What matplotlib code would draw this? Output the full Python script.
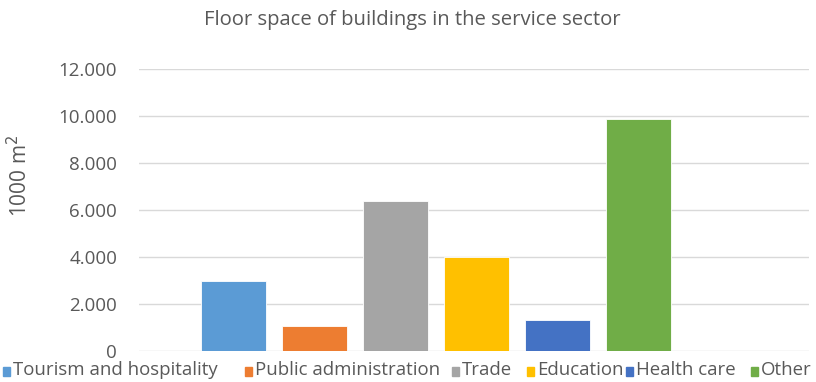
import matplotlib.pyplot as plt
from matplotlib.patches import Rectangle
from matplotlib.ticker import FuncFormatter

plt.rcParams['font.family'] = ['Open Sans', 'DejaVu Sans']

# floor space per building type, in 1000 m2
categories = ['Tourism and hospitality', 'Public administration', 'Trade',
              'Education', 'Health care', 'Other']
values = [3000, 1050, 6400, 3980, 1300, 9870]
colors = ['#5B9BD5', '#ED7D31', '#A5A5A5', '#FFC000', '#4472C4', '#70AD47']
yticks = [0, 2000, 4000, 6000, 8000, 10000, 12000]

W, H = 816, 382
fig = plt.figure(figsize=(W / 100, H / 100), dpi=100)
# axes box in pixels: left 139, right 809, top (12000) 69, bottom (0) 351
ax = fig.add_axes([139 / W, 1 - 351 / H, (809 - 139) / W, (351 - 69) / H])

xs = list(range(len(values)))
ax.bar(xs, values, width=0.796, color=colors, edgecolor='white', linewidth=0.6, zorder=3)

ax.set_xlim(-1.164, 7.107)
ax.set_ylim(0, 12000)
ax.set_yticks(yticks)
ax.yaxis.set_major_formatter(FuncFormatter(lambda v, p: f'{int(v):,}'.replace(',', '.')))
ax.tick_params(axis='y', length=0, pad=15.8, labelsize=13.5, labelcolor='#595959')
ax.set_xticks([])
ax.grid(axis='y', color='#D9D9D9', linewidth=1.0, zorder=0)
for s in ax.spines.values():
    s.set_visible(False)

ax.set_ylabel('1000 m$^2$', fontsize=15, color='#595959')
ax.yaxis.set_label_coords(-0.160, 0.62)

fig.text(412 / W, 1 - 20 / H, 'Floor space of buildings in the service sector',
         ha='center', va='center', fontsize=14.6, color='#595959')

# legend row along the bottom
leg_x = [3, 245, 452, 527, 626, 751]
for x, name, c in zip(leg_x, categories, colors):
    fig.patches.append(Rectangle((x / W, 1 - 376 / H), 7 / W, 9 / H,
                                 transform=fig.transFigure, color=c))
    fig.text((x + 10) / W, 1 - 370 / H, name, ha='left', va='center',
             fontsize=13.4, color='#595959')

fig.savefig('out.png', dpi=100, facecolor='white')
